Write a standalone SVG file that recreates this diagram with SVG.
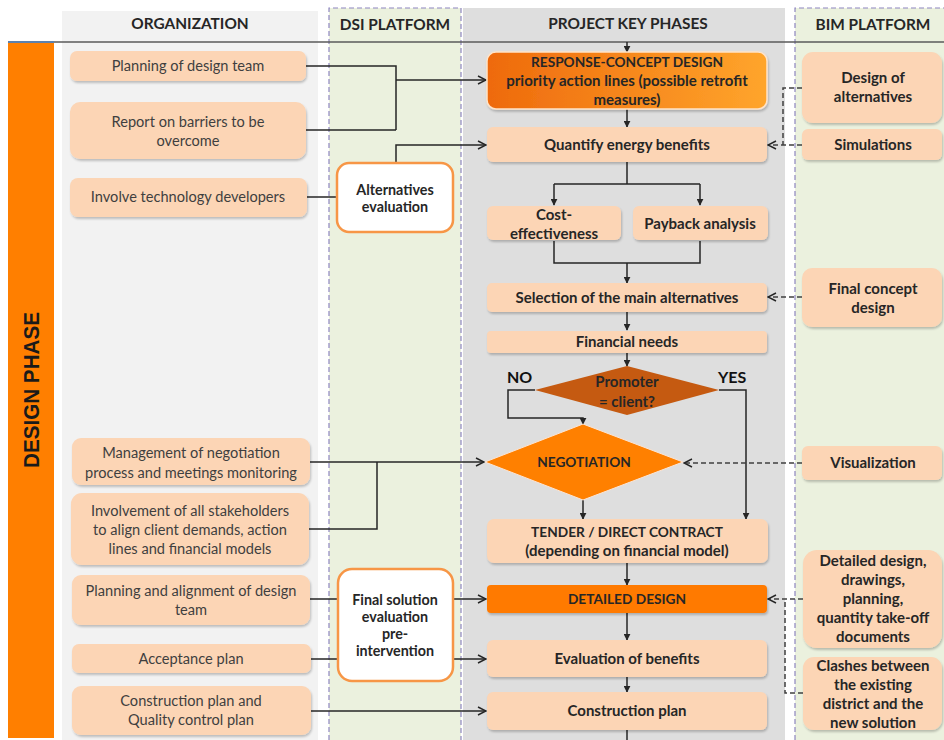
<svg xmlns="http://www.w3.org/2000/svg" width="944" height="740" viewBox="0 0 944 740">
<defs>
<style>
.col-head{font-family:Lato,"Liberation Sans",sans-serif;font-size:15.4px;font-weight:bold;fill:#262626;text-anchor:middle}
.org{fill:#FCD5B5;filter:url(#sh)}
.ot{font-family:Lato,"Liberation Sans",sans-serif;font-size:14.6px;fill:#3F3F3F;text-anchor:middle}
.pk{fill:#FCD5B5;filter:url(#sh)}
.pt{font-family:Lato,"Liberation Sans",sans-serif;font-size:15px;font-weight:bold;fill:#262626;text-anchor:middle}
.up{font-size:13.7px}
.dsi{fill:#FFFFFF;stroke:#F79646;stroke-width:2.5}
.dt{font-family:Lato,"Liberation Sans",sans-serif;font-size:14.3px;font-weight:bold;fill:#262626;text-anchor:middle}
.ln{fill:none;stroke:#262626;stroke-width:1.5}
.dash{fill:none;stroke:#404040;stroke-width:1.5;stroke-dasharray:5 3}
.lane{fill:none;stroke:#8E86BF;stroke-width:1.2;stroke-dasharray:5 3}
</style>
<filter id="sh" x="-5%" y="-10%" width="110%" height="130%">
<feDropShadow dx="1" dy="2" stdDeviation="1" flood-color="#000" flood-opacity="0.22"/>
</filter>
<linearGradient id="og" x1="0" y1="0" x2="1" y2="0">
<stop offset="0" stop-color="#EE6A0C"/>
<stop offset="1" stop-color="#FFA52C"/>
</linearGradient>
<marker id="open" viewBox="0 0 10 10" refX="9" refY="5" markerWidth="10" markerHeight="10" markerUnits="userSpaceOnUse" orient="auto">
<path d="M1,1 L9,5 L1,9" fill="none" stroke="#262626" stroke-width="1.5"/>
</marker>
<marker id="fill" viewBox="0 0 10 10" refX="9" refY="5" markerWidth="7" markerHeight="7" markerUnits="userSpaceOnUse" orient="auto">
<path d="M0,0 L10,5 L0,10 Z" fill="#262626"/>
</marker>
</defs>

<!-- background lanes -->
<g id="lanes">
<rect x="0" y="0" width="944" height="740" fill="#FFFFFF"/>
<rect x="62" y="11" width="256" height="729" fill="#F2F2F2"/>
<rect x="329" y="8" width="132" height="732" fill="#EBF1DE"/>
<rect x="463" y="8" width="322" height="732" fill="#DEDEDE"/>
<rect x="795" y="8" width="149" height="732" fill="#EBF1DE"/>
<path class="lane" d="M329,740 V8 H461 V740"/>
<path class="lane" d="M795,740 V8 H944"/>
<rect x="8" y="43" width="46" height="695" fill="#FF7F00"/>
<line x1="8" y1="42" x2="944" y2="42" stroke="#5A5A5A" stroke-width="1.5"/>
<line x1="8" y1="42" x2="54" y2="42" stroke="#4F81BD" stroke-width="1.5"/>
<text class="col-head" x="190" y="29">ORGANIZATION</text>
<text class="col-head" x="395" y="30">DSI PLATFORM</text>
<text class="col-head" x="628" y="29">PROJECT KEY PHASES</text>
<text class="col-head" x="873" y="30">BIM PLATFORM</text>
<text x="0" y="0" transform="translate(39,390) rotate(-90)" font-family="'Liberation Sans',Arial,sans-serif" font-size="22" font-weight="bold" fill="#1A1A1A" text-anchor="middle" textLength="156" lengthAdjust="spacingAndGlyphs">DESIGN PHASE</text>
</g>

<!-- connectors -->
<g id="connectors">
<path class="ln" d="M627,42 V52" marker-end="url(#fill)"/>
<path class="ln" d="M306,66 H396 V130 M306,130 H396"/>
<path class="ln" d="M396,80 H486" marker-end="url(#open)"/>
<path class="ln" d="M396,163 V145 H486" marker-end="url(#open)"/>
<path class="ln" d="M307,197 H337"/>
<path class="ln" d="M627,109 V127" marker-end="url(#fill)"/>
<path class="ln" d="M627,162 V184 M554,184 H700"/>
<path class="ln" d="M554,184 V205" marker-end="url(#fill)"/>
<path class="ln" d="M700,184 V205" marker-end="url(#fill)"/>
<path class="ln" d="M554,241 V263 H700 V241"/>
<path class="ln" d="M627,263 V283" marker-end="url(#fill)"/>
<path class="ln" d="M627,312 V330" marker-end="url(#fill)"/>
<path class="ln" d="M627,353 V366" marker-end="url(#fill)"/>
<path class="ln" d="M535,390 H508 V418 H583 V424" marker-end="url(#fill)"/>
<path class="ln" d="M719,390 H746 V519" marker-end="url(#fill)"/>
<path class="ln" d="M583,500 V519" marker-end="url(#fill)"/>
<path class="ln" d="M310,462 H484" marker-end="url(#open)"/>
<path class="ln" d="M308,529 H377 V462"/>
<path class="ln" d="M627,563 V585" marker-end="url(#fill)"/>
<path class="ln" d="M627,613 V640" marker-end="url(#fill)"/>
<path class="ln" d="M627,677 V692" marker-end="url(#fill)"/>
<path class="ln" d="M627,730 V740"/>
<path class="ln" d="M310,599 H338 M311,659 H338"/>
<path class="ln" d="M453,599 H486" marker-end="url(#open)"/>
<path class="ln" d="M453,659 H486" marker-end="url(#open)"/>
<path class="ln" d="M311,711 H486" marker-end="url(#open)"/>
<path class="dash" d="M802,88 H783 V145"/>
<path class="dash" d="M802,145 H768" marker-end="url(#open)"/>
<path class="dash" d="M802,297 H768" marker-end="url(#open)"/>
<path class="dash" d="M802,463 H684" marker-end="url(#open)"/>
<path class="dash" d="M803,599 H768" marker-end="url(#open)"/>
<path class="dash" d="M803,693 H785 V599"/>
</g>

<!-- Organization -->
<g id="org-planning"><rect class="org" x="70" y="51" width="236" height="30" rx="7"/><text class="ot" x="188" y="71">Planning of design team</text></g>
<g id="org-report"><rect class="org" x="70" y="102" width="236" height="57" rx="10"/><text class="ot" x="188" y="127">Report on barriers to be</text><text class="ot" x="188" y="146">overcome</text></g>
<g id="org-involve"><rect class="org" x="70" y="178" width="237" height="39" rx="8"/><text class="ot" x="188" y="202">Involve technology developers</text></g>
<g id="org-management"><rect class="org" x="72" y="438" width="238" height="47" rx="9"/><text class="ot" x="191" y="458">Management of negotiation</text><text class="ot" x="191" y="478">process and meetings monitoring</text></g>
<g id="org-stakeholders"><rect class="org" x="71" y="493" width="238" height="72" rx="11"/><text class="ot" x="190" y="516">Involvement of all stakeholders</text><text class="ot" x="190" y="535">to align client demands, action</text><text class="ot" x="190" y="554">lines and financial models</text></g>
<g id="org-alignment"><rect class="org" x="72" y="575" width="238" height="50" rx="9"/><text class="ot" x="191" y="596">Planning and alignment of design</text><text class="ot" x="191" y="615">team</text></g>
<g id="org-acceptance"><rect class="org" x="72" y="644" width="239" height="29" rx="7"/><text class="ot" x="191" y="664">Acceptance plan</text></g>
<g id="org-construction"><rect class="org" x="72" y="686" width="239" height="49" rx="9"/><text class="ot" x="191" y="706">Construction plan and</text><text class="ot" x="191" y="725">Quality control plan</text></g>

<!-- DSI -->
<g id="dsi-alternatives"><rect class="dsi" x="337" y="163" width="116" height="69" rx="12"/><text class="dt" x="395" y="195">Alternatives</text><text class="dt" x="395" y="212">evaluation</text></g>
<g id="dsi-final"><rect class="dsi" x="338" y="569" width="115" height="112" rx="14"/><text class="dt" x="395" y="604.5">Final solution</text><text class="dt" x="395" y="621.5">evaluation</text><text class="dt" x="395" y="638.5">pre-</text><text class="dt" x="395" y="656">intervention</text></g>

<!-- Project key phases -->
<g id="pk-response"><rect x="487" y="52" width="280" height="57" rx="9" fill="url(#og)" stroke="#FFE3C8" stroke-width="1.5" filter="url(#sh)"/><text class="pt up" x="627" y="66.5" fill="#3A1A00">RESPONSE-CONCEPT DESIGN</text><text class="pt" x="627" y="85.5">priority action lines (possible retrofit</text><text class="pt" x="627" y="104.5">measures)</text></g>
<g id="pk-quantify"><rect class="pk" x="487" y="127" width="280" height="35" rx="6"/><text class="pt" x="627" y="150">Quantify energy benefits</text></g>
<g id="pk-cost"><rect class="pk" x="487" y="206" width="134" height="34" rx="6"/><text class="pt" x="554" y="219.5">Cost-</text><text class="pt" x="554" y="238.5">effectiveness</text></g>
<g id="pk-payback"><rect class="pk" x="633" y="206" width="135" height="34" rx="6"/><text class="pt" x="700" y="229">Payback analysis</text></g>
<g id="pk-selection"><rect class="pk" x="487" y="283" width="280" height="29" rx="5"/><text class="pt" x="627" y="302.5">Selection of the main alternatives</text></g>
<g id="pk-financial"><rect class="pk" x="487" y="331" width="280" height="22" rx="4"/><text class="pt" x="627" y="346.5">Financial needs</text></g>
<g id="pk-promoter"><polygon points="627,366 719,390 627,415 535,390" fill="#C55A11"/><text class="pt" x="627" y="386.5" fill="#FFFFFF">Promoter</text><text class="pt" x="627" y="406.5" fill="#FFFFFF">= client?</text></g>
<g id="lbl-no"><text x="507" y="383" font-family="Lato,'Liberation Sans',sans-serif" font-size="16" font-weight="bold" fill="#111">NO</text></g>
<g id="lbl-yes"><text x="718" y="383" font-family="Lato,'Liberation Sans',sans-serif" font-size="16" font-weight="bold" fill="#111">YES</text></g>
<g id="pk-negotiation"><polygon points="583,424 683,462 583,500 485,462" fill="#FF8000" stroke="#FBE5D6" stroke-width="1"/><text class="pt up" x="584" y="467" fill="#3A1A00">NEGOTIATION</text></g>
<g id="pk-tender"><rect class="pk" x="487" y="519" width="281" height="44" rx="7"/><text class="pt up" x="627" y="536.5">TENDER / DIRECT CONTRACT</text><text class="pt" x="627" y="555.5">(depending on financial model)</text></g>
<g id="pk-detailed"><rect x="487" y="585" width="280" height="28" rx="4" fill="#FF7A00" filter="url(#sh)"/><text class="pt up" x="627" y="603.5" fill="#3A1A00">DETAILED DESIGN</text></g>
<g id="pk-evaluation"><rect class="pk" x="487" y="640" width="280" height="37" rx="6"/><text class="pt" x="627" y="663.5">Evaluation of benefits</text></g>
<g id="pk-construction"><rect class="pk" x="487" y="692" width="280" height="38" rx="6"/><text class="pt" x="627" y="715.5">Construction plan</text></g>

<!-- BIM -->
<g id="bim-design"><rect class="pk" x="802" y="52" width="140" height="71" rx="11"/><text class="pt" x="873" y="82.5">Design of</text><text class="pt" x="873" y="101.5">alternatives</text></g>
<g id="bim-simulations"><rect class="pk" x="802" y="129" width="140" height="31" rx="6"/><text class="pt" x="873" y="149.5">Simulations</text></g>
<g id="bim-final"><rect class="pk" x="802" y="268" width="140" height="59" rx="10"/><text class="pt" x="873" y="293.5">Final concept</text><text class="pt" x="873" y="312.5">design</text></g>
<g id="bim-visualization"><rect class="pk" x="802" y="446" width="140" height="34" rx="6"/><text class="pt" x="873" y="467.5">Visualization</text></g>
<g id="bim-detailed"><rect class="pk" x="803" y="550" width="139" height="98" rx="14"/><text class="pt" x="873" y="565.5">Detailed design,</text><text class="pt" x="873" y="585">drawings,</text><text class="pt" x="873" y="603.5">planning,</text><text class="pt" x="873" y="622.5">quantity take-off</text><text class="pt" x="873" y="642">documents</text></g>
<g id="bim-clashes"><rect class="pk" x="803" y="657" width="139" height="73" rx="11"/><text class="pt" x="873" y="670.5">Clashes between</text><text class="pt" x="873" y="689.5">the existing</text><text class="pt" x="873" y="708.5">district and the</text><text class="pt" x="873" y="727.5">new solution</text></g>
</svg>
